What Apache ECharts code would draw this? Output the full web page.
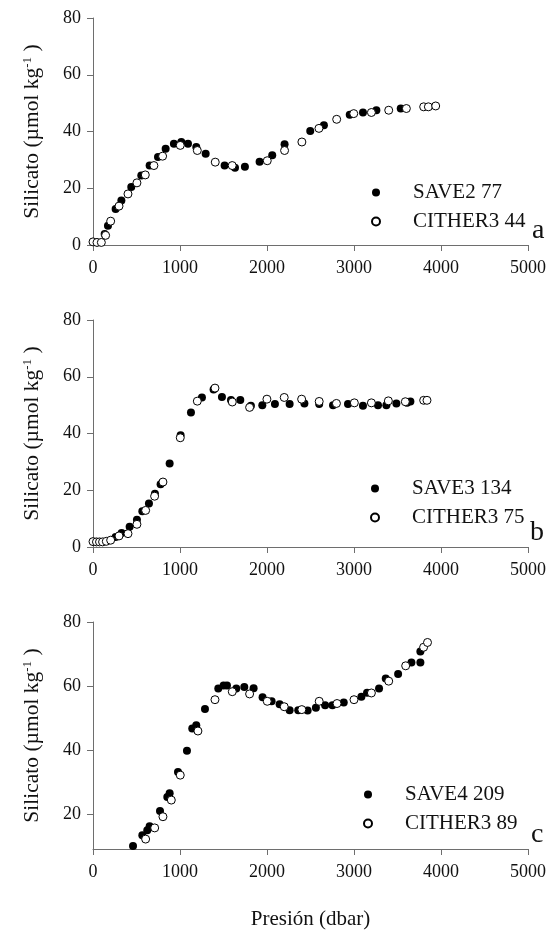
<!DOCTYPE html>
<html>
<head>
<meta charset="utf-8">
<script src="https://cdn.jsdelivr.net/npm/echarts@6/dist/echarts.min.js"></script>
<style>
    html, body { margin: 0; padding: 0; background: #fff; }
    #main { width: 550px; height: 932px; }
</style>
</head>
<body>
<div id="main"></div>
<script>
'use strict';

// x = presion (dbar), y = silicato
var save2_77 = [[134, 3.9], [172, 6.8], [260, 12.7], [326, 15.7], [440, 20.4], [555, 24.5], [651, 28.0],
    [747, 31.0], [835, 33.9], [930, 35.7], [1015, 36.3], [1092, 35.7], [1187, 34.5], [1295, 32.2],
    [1513, 28.0], [1632, 27.2], [1746, 27.6], [1915, 29.3], [2060, 31.6], [2202, 35.5], [2497, 40.2],
    [2654, 42.2], [2951, 45.9], [3103, 46.7], [3257, 47.5], [3537, 48.1]];
var cither3_44 = [[0, 1.1], [46, 0.9], [96, 0.9], [145, 3.4], [203, 8.4], [299, 13.7], [402, 18.0],
    [505, 21.9], [601, 24.7], [700, 28.0], [800, 31.3], [1003, 35.1], [1199, 33.3], [1405, 29.2],
    [1600, 28.0], [2003, 29.7], [2202, 33.3], [2401, 36.3], [2597, 41.1], [2801, 44.3], [2997, 46.3],
    [3200, 46.7], [3399, 47.5], [3602, 48.1], [3801, 48.7], [3855, 48.7], [3939, 49.0]];

var save3_134 = [[260, 3.5], [329, 4.9], [421, 7.1], [505, 9.6], [567, 12.6], [643, 15.3], [712, 18.8],
    [777, 22.1], [881, 29.4], [1007, 39.4], [1126, 47.4], [1252, 52.7], [1386, 55.5], [1482, 52.9],
    [1586, 51.8], [1693, 51.8], [1815, 49.8], [1946, 50.0], [2091, 50.4], [2260, 50.4], [2430, 50.6],
    [2600, 50.4], [2759, 50.0], [2931, 50.4], [3103, 49.8], [3276, 50.0], [3372, 50.0], [3487, 50.6],
    [3610, 50.8], [3648, 51.3]];
var cither3_75 = [[0, 1.9], [40, 1.8], [75, 1.8], [110, 1.8], [153, 2.0], [203, 2.4], [299, 3.9],
    [402, 4.7], [505, 8.0], [605, 12.9], [708, 17.9], [804, 22.9], [1003, 38.5], [1199, 51.4],
    [1402, 56.0], [1601, 51.1], [1800, 49.2], [1999, 52.1], [2198, 52.7], [2398, 52.1], [2600, 51.3],
    [2798, 50.6], [3004, 50.8], [3200, 50.8], [3395, 51.5], [3590, 51.2], [3801, 51.7], [3839, 51.7]];

var save4_209 = [[460, 9.9], [567, 13.3], [624, 14.9], [651, 16.1], [770, 20.9], [854, 25.3], [881, 26.4],
    [977, 33.1], [1080, 39.7], [1141, 46.7], [1187, 47.7], [1287, 52.8], [1440, 59.2], [1501, 60.1],
    [1540, 60.1], [1647, 59.2], [1739, 59.7], [1846, 59.3], [1949, 56.5], [2053, 55.2], [2145, 54.3],
    [2260, 52.4], [2359, 52.4], [2467, 52.3], [2562, 53.2], [2668, 54.0], [2752, 54.0], [2882, 54.8],
    [3085, 56.6], [3150, 57.9], [3288, 59.2], [3365, 62.3], [3507, 63.7], [3660, 67.3], [3763, 67.3],
    [3763, 70.8]];
var cither3_89 = [[605, 12.1], [709, 15.6], [804, 19.1], [900, 24.3], [1003, 32.1], [1206, 45.9],
    [1402, 55.7], [1601, 58.2], [1800, 57.5], [2003, 55.2], [2198, 53.5], [2400, 52.6], [2600, 55.2],
    [2805, 54.5], [3000, 55.7], [3200, 57.8], [3399, 61.5], [3594, 66.3], [3800, 72.1], [3845, 73.6]];

var legendNames = [['SAVE2 77', 'CITHER3 44'], ['SAVE3 134', 'CITHER3 75'], ['SAVE4 209', 'CITHER3 89']];
var panelLetters = ['a', 'b', 'c'];
var yTicks = [20, 40, 60, 80];

var FONT = '"Liberation Serif", "Times New Roman", serif';
var AXIS_COLOR = '#6e6e6e';
var TEXT_COLOR = '#111';

var panelTop = [18, 320, 622];
var panelHeight = 227;
var yMin = [0, 0, 9];
var legendTop = [182, 478, 784];
var legendLeft = [371, 370, 363];
var letterPos = [[532, 231], [530, 533], [531, 835]];

function plainNumber(v) {
    return String(v);
}

function makeGrid(i) {
    return { left: 93, right: 22, top: panelTop[i], height: panelHeight, containLabel: false };
}

function makeXAxis(i) {
    var ax = {
        type: 'value',
        gridIndex: i,
        min: 0,
        max: 5000,
        interval: 1000,
        splitLine: { show: false },
        axisLine: { show: true, lineStyle: { color: AXIS_COLOR, width: 1 } },
        axisTick: { show: true, length: 6, lineStyle: { color: AXIS_COLOR } },
        axisLabel: { margin: 14, fontFamily: FONT, fontSize: 18, color: TEXT_COLOR, formatter: plainNumber }
    };
    if (i === 2) {
        ax.name = 'Presión (dbar)';
        ax.nameLocation = 'middle';
        ax.nameGap = 60;
        ax.nameTextStyle = { fontFamily: FONT, fontSize: 21, color: TEXT_COLOR };
    }
    return ax;
}

function makeYAxis(i) {
    var ax = {
        type: 'value',
        gridIndex: i,
        min: yMin[i],
        max: 80,
        splitLine: { show: false },
        axisLine: { show: true, onZero: false, lineStyle: { color: AXIS_COLOR, width: 1 } },
        axisTick: { show: true, length: 6, lineStyle: { color: AXIS_COLOR } },
        axisLabel: { margin: 12, fontFamily: FONT, fontSize: 18, color: TEXT_COLOR, formatter: plainNumber },
        name: 'Silicato (µmol kg{sup|-1} )',
        nameLocation: 'middle',
        nameGap: 50,
        nameTextStyle: {
            fontFamily: FONT,
            fontSize: 21.5,
            color: TEXT_COLOR,
            rich: {
                sup: { fontFamily: FONT, fontSize: 13, color: TEXT_COLOR, verticalAlign: 'top', lineHeight: 13 }
            }
        }
    };
    if (yMin[i] === 0) {
        ax.interval = 20;
    } else {
        // axis starts above zero, so only label the round values
        ax.axisLabel.customValues = yTicks;
        ax.axisTick.customValues = yTicks;
    }
    return ax;
}

function makeSeries(name, data, i, open) {
    return {
        name: name,
        type: 'scatter',
        xAxisIndex: i,
        yAxisIndex: i,
        data: data,
        symbol: 'circle',
        symbolSize: 8,
        itemStyle: open
            ? { color: '#fff', borderColor: '#000', borderWidth: 1, opacity: 1 }
            : { color: '#000', borderColor: '#000', borderWidth: 0, opacity: 1 },
        emphasis: { disabled: true }
    };
}

function makeLegend(i) {
    return {
        data: legendNames[i],
        orient: 'vertical',
        left: legendLeft[i],
        top: legendTop[i],
        padding: 0,
        itemWidth: 8,
        itemHeight: 8,
        itemGap: 8,
        selectedMode: false,
        textStyle: { fontFamily: FONT, fontSize: 21, lineHeight: 20, color: TEXT_COLOR, padding: [0, 0, 0, 28] }
    };
}

var myChart = echarts.init(document.getElementById('main'));

var grids = [], xAxes = [], yAxes = [], legends = [], letters = [];
for (var i = 0; i < 3; i++) {
    grids.push(makeGrid(i));
    xAxes.push(makeXAxis(i));
    yAxes.push(makeYAxis(i));
    legends.push(makeLegend(i));
    letters.push({
        type: 'text',
        left: letterPos[i][0],
        top: letterPos[i][1] - 14,
        style: { text: panelLetters[i], font: '28px ' + FONT, fill: TEXT_COLOR }
    });
}

var option = {
    animation: false,
    backgroundColor: '#fff',
    grid: grids,
    xAxis: xAxes,
    yAxis: yAxes,
    legend: legends,
    graphic: letters,
    series: [
        makeSeries(legendNames[0][0], save2_77, 0, false),
        makeSeries(legendNames[0][1], cither3_44, 0, true),
        makeSeries(legendNames[1][0], save3_134, 1, false),
        makeSeries(legendNames[1][1], cither3_75, 1, true),
        makeSeries(legendNames[2][0], save4_209, 2, false),
        makeSeries(legendNames[2][1], cither3_89, 2, true)
    ]
};
myChart.setOption(option);
</script>
</body>
</html>
